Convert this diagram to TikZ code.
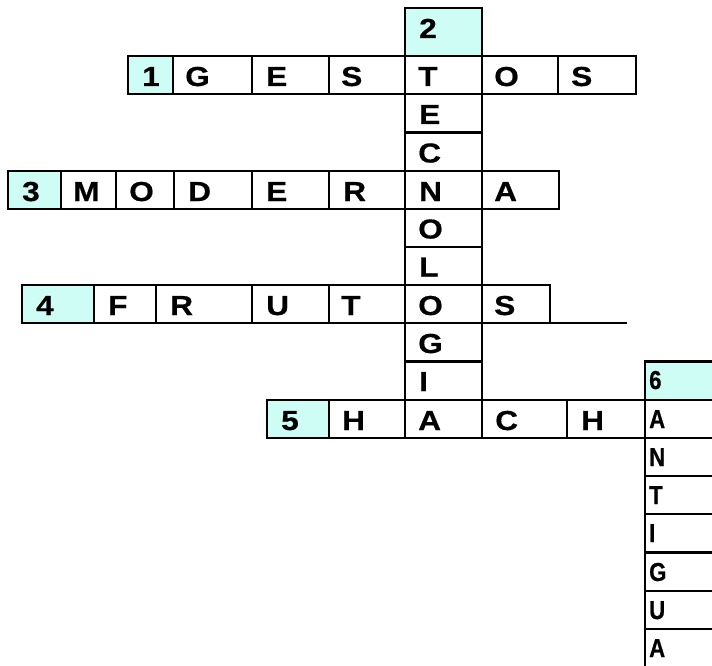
\documentclass[tikz,border=0pt]{standalone}
\usepackage{fontspec}
\newfontfamily\gridfont[FakeStretch=1.15, FakeBold=0.6]{Liberation Sans}
\newfontfamily\narrowgridfont[FakeStretch=0.85, FakeBold=0.6]{Liberation Sans}
\definecolor{cluecyan}{RGB}{206,253,246}
\tikzset{
  cell/.style={draw=black, line width=2.8pt},
  clue/.style={cell, fill=cluecyan},
  letter/.style={anchor=base west, inner sep=0pt, font=\gridfont\bfseries\fontsize{27.5}{28}\selectfont},
  downletter/.style={letter, font=\narrowgridfont\bfseries\fontsize{26}{27}\selectfont}
}

\begin{document}
\begin{tikzpicture}[x=1pt, y=-1pt]
\useasboundingbox (0,0) rectangle (712,666);
\clip (0,0) rectangle (712,666);
\draw[cell] (173,56) rectangle (252,94);
\draw[cell] (252,56) rectangle (329,94);
\draw[cell] (329,56) rectangle (405,94);
\draw[cell] (405,56) rectangle (482,94);
\draw[cell] (482,56) rectangle (558,94);
\draw[cell] (558,56) rectangle (636,94);
\draw[clue] (128,56) rectangle (173,94);
\draw[cell] (405,94) rectangle (482,132.5);
\draw[cell] (405,132.5) rectangle (482,171);
\draw[cell] (405,209) rectangle (482,247);
\draw[cell] (405,247) rectangle (482,285);
\draw[cell] (405,323) rectangle (482,361.5);
\draw[cell] (405,361.5) rectangle (482,400);
\draw[clue] (405,8) rectangle (482,56);
\draw[cell] (61,171) rectangle (116,209);
\draw[cell] (116,171) rectangle (174,209);
\draw[cell] (174,171) rectangle (252,209);
\draw[cell] (252,171) rectangle (329,209);
\draw[cell] (329,171) rectangle (405,209);
\draw[cell] (405,171) rectangle (482,209);
\draw[cell] (482,171) rectangle (559,209);
\draw[clue] (8,171) rectangle (61,209);
\draw[cell] (94,285) rectangle (156,323);
\draw[cell] (156,285) rectangle (252,323);
\draw[cell] (252,285) rectangle (329,323);
\draw[cell] (329,285) rectangle (405,323);
\draw[cell] (405,285) rectangle (482,323);
\draw[cell] (482,285) rectangle (550,323);
\draw[cell] (550,323) -- (627,323);
\draw[clue] (22,285) rectangle (94,323);
\draw[cell] (329,400) rectangle (405,438);
\draw[cell] (405,400) rectangle (482,438);
\draw[cell] (482,400) rectangle (567,438);
\draw[cell] (567,400) rectangle (645,438);
\draw[clue] (267,400) rectangle (329,438);
\draw[cell] (645,400) rectangle (722,438);
\draw[cell] (645,438) rectangle (722,476);
\draw[cell] (645,476) rectangle (722,514);
\draw[cell] (645,514) rectangle (722,552.5);
\draw[cell] (645,552.5) rectangle (722,591);
\draw[cell] (645,591) rectangle (722,629);
\draw[cell] (645,629) rectangle (722,669);
\draw[clue] (645,361.5) rectangle (722,400);
\node[letter] (num1) at (142,86) {1};
\node[letter] (gestos1) at (185,86) {G};
\node[letter] (gestos2) at (266,86) {E};
\node[letter] (gestos3) at (341,86) {S};
\node[letter] (gestos4) at (418,86) {T};
\node[letter] (gestos5) at (494,86) {O};
\node[letter] (gestos6) at (571,86) {S};
\node[letter] (num2) at (419,38) {2};
\node[letter] (tecno2) at (419,124) {E};
\node[letter] (tecno3) at (418,162.5) {C};
\node[letter] (tecno5) at (418,238.5) {O};
\node[letter] (tecno6) at (419,276.5) {L};
\node[letter] (tecno8) at (418,353) {G};
\node[letter] (tecno9) at (419,391) {I};
\node[letter] (num3) at (22,201) {3};
\node[letter] (moderna1) at (73,201) {M};
\node[letter] (moderna2) at (129,201) {O};
\node[letter] (moderna3) at (188,201) {D};
\node[letter] (moderna4) at (266,201) {E};
\node[letter] (moderna5) at (343,201) {R};
\node[letter] (moderna6) at (419,201) {N};
\node[letter] (moderna7) at (494,201) {A};
\node[letter] (num4) at (36,315) {4};
\node[letter] (frutos1) at (108,315) {F};
\node[letter] (frutos2) at (170,315) {R};
\node[letter] (frutos3) at (266,315) {U};
\node[letter] (frutos4) at (341,315) {T};
\node[letter] (frutos5) at (418,315) {O};
\node[letter] (frutos6) at (494,315) {S};
\node[letter] (num5) at (281,430) {5};
\node[letter] (hacha1) at (342,430) {H};
\node[letter] (hacha2) at (418,430) {A};
\node[letter] (hacha3) at (495,430) {C};
\node[letter] (hacha4) at (581,430) {H};
\node[downletter] (hacha5) at (649,428) {A};
\node[downletter] (num6) at (649,389) {6};
\node[downletter] (antigua2) at (649,466) {N};
\node[downletter] (antigua3) at (649,504) {T};
\node[downletter] (antigua4) at (649,542) {I};
\node[downletter] (antigua5) at (649,581) {G};
\node[downletter] (antigua6) at (649,619) {U};
\node[downletter] (antigua7) at (649,657) {A};
\end{tikzpicture}
\end{document}
